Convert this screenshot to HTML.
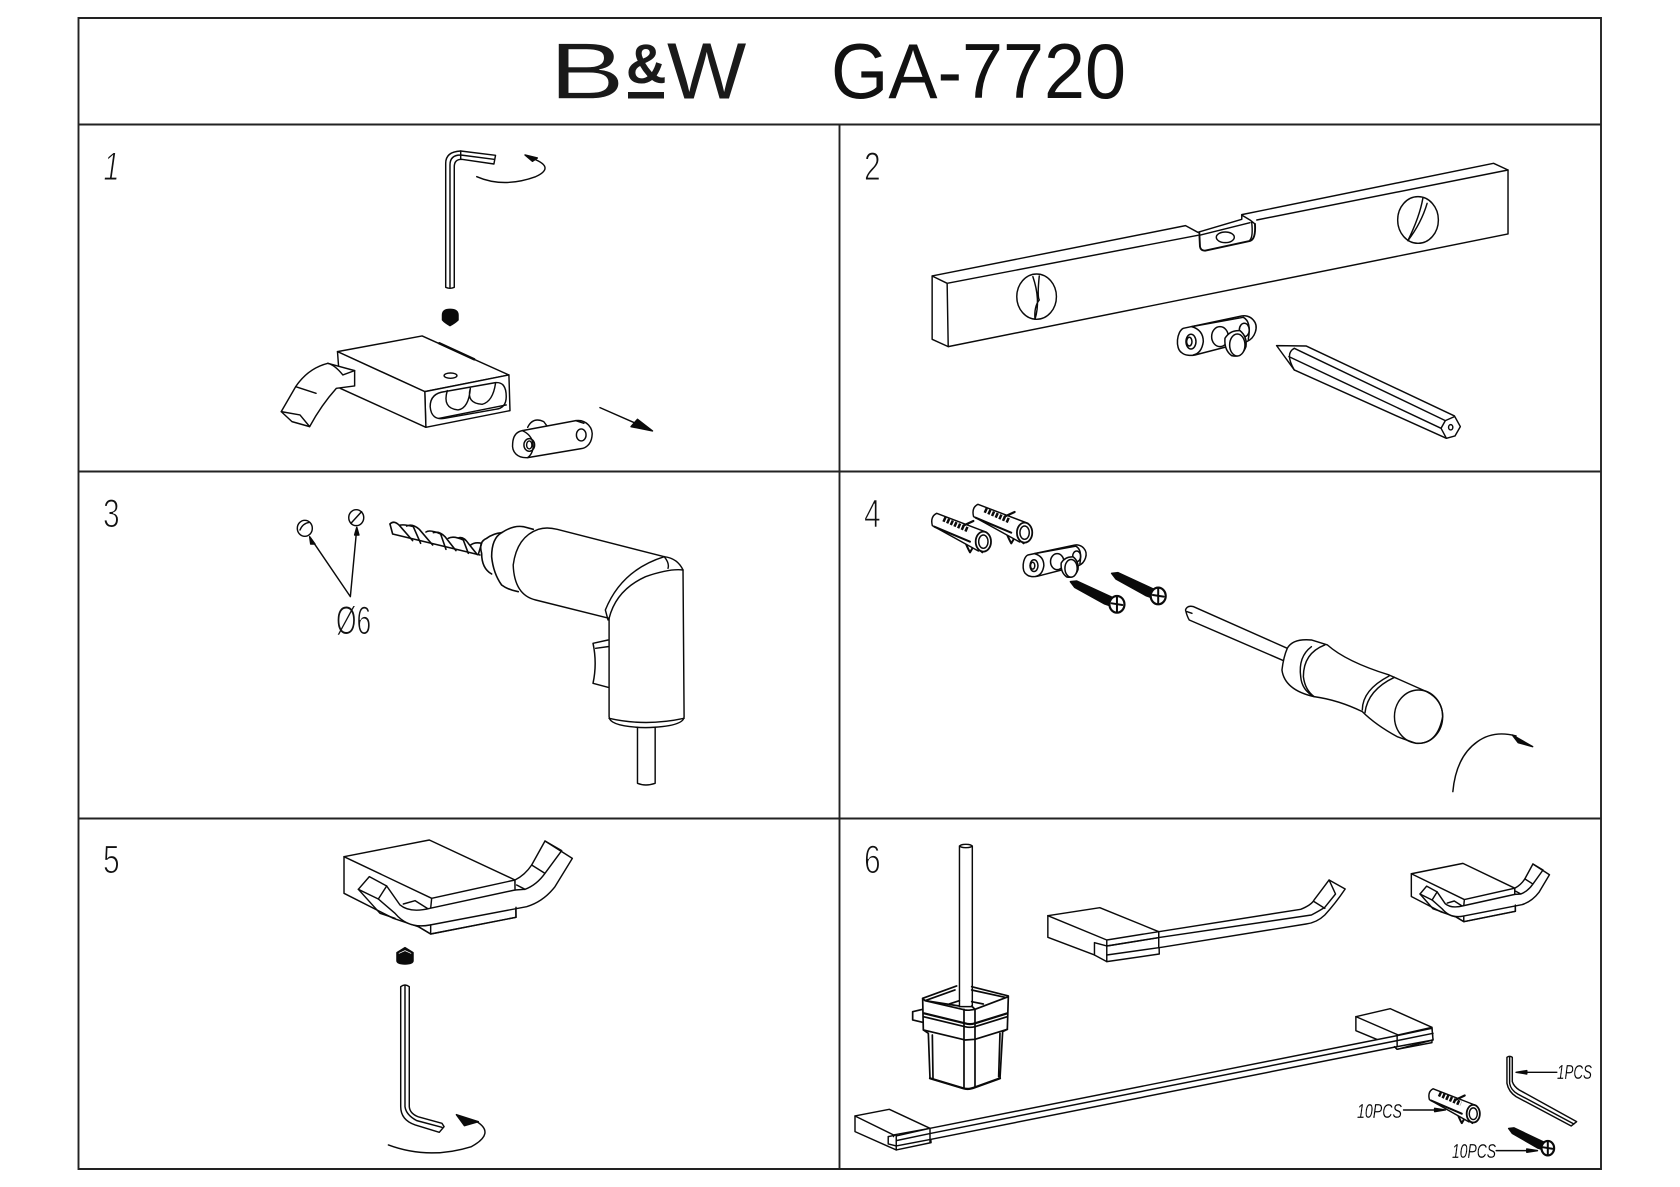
<!DOCTYPE html>
<html><head><meta charset="utf-8"><style>
html,body{margin:0;padding:0;background:#fff}
svg{display:block}
path,ellipse,line,polygon,rect{vector-effect:non-scaling-stroke}
.d{fill:none;stroke:#0a0a0a;stroke-width:1.45;stroke-linejoin:round;stroke-linecap:round}
.w{fill:#fff}.k{fill:#0a0a0a}.n{fill:none}
text{font-family:"Liberation Sans",sans-serif}
.num{font-size:40px;fill:#111;stroke:#fff;stroke-width:1.1}
.lab{font-size:20px;font-style:italic;fill:#000;stroke:#fff;stroke-width:.2}
</style></head><body>
<svg width="1680" height="1187" viewBox="0 0 1680 1187" xmlns="http://www.w3.org/2000/svg">
<defs>
<g id="plate"><g transform="translate(597.3,630) scale(.6222,1)" style="stroke-width:1.5">
<path class="w" d="M70 355C50 365 45 415 65 428C75 438 95 437 105 435L260 395C285 385 298 350 280 330C270 318 255 316 245 318Z"/>
<path d="M95 350Q130 360 130 395Q125 430 100 435M95 350L250 322Q275 335 265 388"/>
<ellipse cx="93" cy="395" rx="15" ry="22"/><ellipse cx="88" cy="395" rx="8" ry="13"/>
<ellipse cx="253" cy="360" rx="15" ry="20"/>
<ellipse class="w" cx="180" cy="380" rx="25" ry="30"/>
<path class="w" d="M195 385Q210 360 240 362Q262 380 258 410Q245 445 215 437Q192 420 195 385Z"/>
<ellipse class="w" cx="232" cy="405" rx="23" ry="33"/>
</g></g>
<g id="anchor"><g transform="translate(158.7,75) scale(.6222,1)">
<path d="M120 140Q128 160 135 172L145 155M165 165L172 172" style="stroke-width:2"/>
<path class="w" d="M35 55L185 112L195 150L160 168L22 92Q15 65 35 55Z"/>
<ellipse class="w" cx="175" cy="140" rx="23" ry="30" style="stroke-width:1.8"/>
<ellipse cx="175" cy="140" rx="14" ry="20"/>
<path d="M55 72L132 106" style="stroke-width:5;stroke-dasharray:2.5 1.5;stroke-linecap:butt"/>
<path d="M115 92L145 78" style="stroke-width:2.2"/>
<path d="M28 95L135 140" style="stroke-width:2"/>
</g></g>
<g id="screw">
<polygon class="k" points="430,335 442,333 512,385 505,408 494,402 438,352"/>
<ellipse class="w" cx="517" cy="403" rx="14" ry="25" style="stroke-width:2.2"/>
<path d="M507 400L527 405M517 381L517 425" style="stroke-width:2"/>
</g>
<g id="hook">
<path class="w" d="M12 80L268 30L525 150L528 262L272 312L235 290L160 265L12 190Z"/>
<path d="M12 80L275 205L525 150M275 205L272 235"/>
<path class="w" d="M615 33L697 85L645 170Q610 215 560 230L270 285Q205 298 165 250L115 207L55 178L88 140L140 168L180 225Q210 250 270 235L525 180L525 150Q555 135 575 105Z"/>
<path d="M665 62L615 130Q590 165 555 178L525 180M575 105L615 130M530 165L555 178M665 62L615 33"/>
<path d="M115 207L140 168M55 178L120 250L165 265M190 222L225 212L262 235"/>
<path d="M235 290L272 312L528 262L528 232M272 285L272 312"/>
</g>
</defs>

<g fill="none" stroke="#222" stroke-width="1.9">
<rect x="78.5" y="18" width="1522.5" height="1151"/>
<line x1="78" y1="124.5" x2="1601" y2="124.5"/>
<line x1="78" y1="471.5" x2="1601" y2="471.5"/>
<line x1="78" y1="818.5" x2="1601" y2="818.5"/>
<line x1="839.5" y1="124" x2="839.5" y2="1169"/>
</g>

<!-- Title -->
<text transform="translate(549,98.5) scale(1.42,1)" font-size="80" fill="#1a1a1a" stroke="#fff" stroke-width=".6">B</text>
<text x="626" y="83" font-size="56" font-weight="700" fill="#1a1a1a">&amp;</text>
<rect x="628" y="92" width="36" height="6.5" fill="#1a1a1a"/>
<text transform="translate(667,98.5) scale(1.05,1)" font-size="80" fill="#1a1a1a">W</text>
<text x="831" y="98" font-size="78" fill="#111" textLength="295" lengthAdjust="spacingAndGlyphs">GA-7720</text>

<!-- Panel numbers -->
<text class="num" transform="translate(102,180) skewX(-8) scale(.72,1)">1</text>
<text class="num" transform="translate(864,180) scale(.75,1)">2</text>
<text class="num" transform="translate(103,527) scale(.75,1)">3</text>
<text class="num" transform="translate(864,527) scale(.75,1)">4</text>
<text class="num" transform="translate(103,873) scale(.75,1)">5</text>
<text class="num" transform="translate(864,873) scale(.75,1)">6</text>
<text class="num" transform="translate(336,634) scale(.66,1)">Ø6</text>
<text class="lab" x="1557" y="1079" textLength="35" lengthAdjust="spacingAndGlyphs">1PCS</text>
<text class="lab" x="1357" y="1118" textLength="45" lengthAdjust="spacingAndGlyphs">10PCS</text>
<text class="lab" x="1452" y="1158" textLength="44" lengthAdjust="spacingAndGlyphs">10PCS</text>

<!-- Panel 1 -->
<g class="d" transform="translate(0,0) scale(.5357,.3333)">
<path d="M832 862L832 490Q832 455 860 453L925 466L922 492L862 478Q848 478 848 500L848 862Q840 868 832 862Z"/>
<path d="M840 862L840 495Q840 465 860 465L922 478M860 453L860 478"/>
<path d="M890 530Q940 565 1000 530Q1040 500 988 472"/>
<polygon class="k" points="980,465 1003,474 994,484"/>
<path class="k" d="M826 945Q826 928 840 928Q855 928 855 945L855 960Q850 968 840 977Q830 968 826 960Z"/>
<path class="w" d="M630 1055L788 1008L950 1125L793 1175Z"/>
<path class="w" d="M793 1175L950 1125L952 1232L795 1282Z"/>
<path class="w" d="M630 1055L793 1175L795 1282L635 1165Z"/>
<path d="M820 1030L885 1078" style="stroke-width:2.5"/>
<ellipse cx="841" cy="1127" rx="12" ry="8"/>
<path d="M830 1175L925 1148Q945 1145 945 1190Q945 1225 925 1228L830 1255Q805 1262 803 1220Q803 1180 830 1175Z"/>
<path d="M835 1172Q825 1225 855 1230Q875 1225 878 1165M878 1165Q870 1210 900 1213Q920 1205 925 1150M820 1255L945 1215"/>
<path class="w" d="M612 1090L662 1112L662 1158L628 1165Q600 1215 578 1280L545 1265L525 1235L552 1160Q575 1105 612 1090Z"/>
<path d="M612 1090Q625 1095 640 1125L662 1112M552 1160L590 1180M525 1235L560 1245L578 1280"/>
<path d="M985 1282Q995 1250 1015 1265L1022 1280"/>
<path class="w" d="M975 1292L1075 1262C1095 1258 1108 1285 1105 1310C1103 1335 1092 1345 1085 1346L985 1373C965 1375 955 1355 957 1330C958 1305 965 1295 975 1292Z"/>
<path d="M975 1292C1000 1310 1000 1355 985 1373M1075 1262L1090 1270"/>
<ellipse cx="988" cy="1335" rx="10" ry="19"/><ellipse cx="988" cy="1335" rx="5" ry="12"/>
<ellipse cx="1085" cy="1305" rx="9" ry="18"/>
<line x1="1120" y1="1223" x2="1195" y2="1276"/>
<polygon class="k" points="1218,1293 1178,1280 1190,1258"/>
</g>

<!-- Panel 2 -->
<g class="d" transform="translate(840,0) scale(.5357,.3333)">
<path class="w" d="M172 828L645 677L668 697L750 658L750 644L1220 490L1247 510L1247 702L202 1040L172 1018Z"/>
<path d="M172 828L200 850L668 706M778 660L1247 510M200 850L202 1040"/>
<g transform="translate(597.3,630) scale(.6222,1)">
<path d="M118 76L270 38M245 15L270 30L285 42M275 35Q280 80 270 90"/>
<path d="M118 68L120 110Q122 122 135 122L270 93Q288 88 285 42" style="stroke-width:1.9"/>
<ellipse cx="196" cy="82" rx="27" ry="16"/>
</g>
<ellipse cx="367" cy="890" rx="37" ry="68"/>
<path d="M372 828Q368 890 372 900Q362 920 364 958M360 830Q375 900 364 958"/>
<ellipse cx="1079" cy="660" rx="38" ry="70"/>
<path d="M1088 595Q1082 650 1060 722M1096 610Q1085 670 1060 722"/>
<use href="#plate"/>
<path class="w" d="M815 1037L870 1038L1147 1248L1158 1280L1148 1308L1132 1315L848 1110Z"/>
<path d="M848 1045L1130 1262M838 1070L1122 1285M848 1045Q830 1060 848 1110M1130 1262L1147 1250M1130 1262L1122 1285L1132 1315"/>
<ellipse cx="1140" cy="1282" rx="4" ry="8"/>
</g>

<!-- Panel 3 -->
<g class="d" transform="translate(0,470) scale(.5357,.3333)">
<ellipse cx="569" cy="175" rx="14" ry="24"/><path d="M560 180Q565 160 578 157"/>
<ellipse cx="665" cy="143" rx="14" ry="24"/><path d="M655 160L675 125"/>
<path d="M654 380L580 205M654 380L666 175"/>
<polygon class="k" points="578,200 588,222 580,222"/><polygon class="k" points="666,172 670,195 662,195"/>
<g transform="translate(709.3,120) scale(.6222,1)" style="stroke-width:1.6">
<path d="M38 72L300 135M30 42L38 72"/>
<path d="M30 42Q42 30 58 46L98 92M58 46Q72 42 100 50M100 50L122 100M80 48Q98 40 118 58L158 105M138 66Q150 58 182 72M182 72L198 118M160 68Q178 62 195 80L228 122M205 85Q220 76 250 90M250 90L265 130M235 84Q250 78 265 100L292 134M272 105Q285 95 305 100L296 130"/>
<path d="M305 130Q295 95 320 85Q340 70 365 68M305 130Q305 175 335 192"/>
<path d="M365 68Q335 85 335 140Q340 190 365 225Q385 240 415 245"/>
<path d="M365 68Q400 45 430 50L460 58"/>
</g>
<path class="w" d="M1005 178Q1020 170 1040 178L1240 260Q1265 265 1275 300L1277 740Q1277 770 1205 773Q1137 770 1137 740L1137 445L1000 390Q960 375 958 285Q965 200 1005 178Z"/>
<path d="M1240 260Q1160 300 1130 420L1135 450M1275 300Q1250 295 1205 320Q1150 360 1137 445M1240 260Q1250 280 1247 295"/>
<path d="M1137 745Q1205 770 1277 745"/>
<path d="M1190 772L1190 940Q1205 950 1223 940L1223 772"/>
<path d="M1135 510L1107 520Q1115 580 1107 640L1135 652M1112 535L1135 530" style="stroke-width:1.5"/>
</g>

<!-- Panel 4 -->
<g class="d" transform="translate(840,470) scale(.5357,.3333)">
<use href="#anchor" transform="translate(77,-27)"/>
<use href="#anchor"/>
<use href="#plate" transform="translate(-162,-533) scale(.8,.8)"/>
<use href="#screw"/>
<use href="#screw" transform="translate(77,-25)"/>
<path d="M660 410Q648 405 645 420Q648 440 652 450M660 410L835 535M652 450L828 572M648 425L657 430"/>
<path class="w" d="M835 535Q845 505 880 510L910 525Q945 575 1025 615L1095 665Q1125 690 1125 740Q1115 825 1075 820L1040 800Q1000 765 975 725Q930 690 885 680Q830 660 825 600Q828 560 835 535Z"/>
<path d="M880 530Q855 560 860 620Q862 660 885 680M905 525Q865 550 865 620Q868 660 885 680"/>
<path d="M1025 618Q975 660 975 720M1035 622Q985 660 980 728"/>
<ellipse cx="1080" cy="740" rx="45" ry="80"/>
<path d="M1144 965Q1150 860 1190 815Q1220 780 1262 798"/>
<polygon class="k" points="1293,830 1255,795 1266,818"/>
</g>

<!-- Panel 5 -->
<g class="d" transform="translate(0,820) scale(.5357,.3333)">
<use href="#hook" transform="translate(634.7,30) scale(.6222,1)"/>
<path class="k" d="M741 398L756 383L771 398L771 422Q771 432 756 432Q741 432 741 422Z"/>
<path d="M745 400L756 392L767 400" style="stroke:#fff;stroke-width:.8"/>
<path d="M748 500Q756 490 764 500L764 860Q765 880 780 890L825 910L829 920L820 937L775 915Q748 900 748 860Z"/>
<path d="M756 498L756 860Q758 885 778 902L825 922"/>
<path d="M725 975Q800 1020 880 980Q925 940 890 905"/>
<polygon class="k" points="852,884 893,905 867,917"/>
</g>

<!-- Panel 6 -->
<g class="d" transform="translate(840,820) scale(.5357,.3333)">
<path class="w" d="M223 78L223 560L247 560L247 78Z"/>
<ellipse class="w" cx="235" cy="78" rx="11" ry="5"/>
<g transform="translate(112,480) scale(.6222,1)" style="stroke-width:1.7">
<path d="M68 88L38 95L38 120L68 127"/>
<path d="M178 62L148 72M215 65L250 72M75 62L165 30M68 55L170 18M215 20L325 48M215 30L315 52"/>
<path d="M178 78L75 62M215 78L225 88"/>
<path class="w" d="M68 55L75 62L195 90Q205 92 225 88L325 50L322 148L308 155L300 295L225 322Q205 330 190 325L90 295L85 160L70 150Z"/>
<path d="M72 100L195 130Q210 135 225 130L322 100" style="stroke-width:2.2"/>
<path d="M70 110L195 140Q210 144 225 140L322 110"/>
<path d="M70 150L195 180L225 178L322 148"/>
<path d="M192 88L192 325M225 88L225 322M97 165L99 295M300 160L296 290"/>
<path d="M90 295L190 325Q205 330 225 322L300 295" style="stroke-width:2.3"/>
</g>

<path class="w" d="M388 287L485 263L595 335L596 402L498 425L475 405L388 352Z"/>
<path d="M388 287L498 360L595 335M498 360L498 378M475 405L475 368L498 378M498 405L498 425"/>
<path class="w" d="M498 378L595 353L595 335L860 268Q880 255 885 240L913 180L943 207Q925 250 905 285Q890 308 870 312L600 382L498 405Z"/>
<path d="M885 245L905 265M498 378L598 352L880 285Q895 272 905 262L925 222L913 180M595 335L595 382"/>

<use href="#hook" transform="translate(1062,111.6) scale(.3764,.62)"/>

<path class="w" d="M28 888L92 868L168 925L170 968L105 990L28 935Z"/>
<path d="M28 888L100 945L168 925M100 945L100 950M90 950L105 945M90 950L90 972L105 978M105 978L105 990"/>
<path class="w" d="M963 590L1027 566L1105 622L1107 660L1040 688L1035 680L963 632Z"/>
<path d="M963 590L1042 645L1105 622"/>
<path class="w" d="M105 948L168 925L1040 647L1105 625L1107 660L1040 680L170 958L105 978Z"/>
<path d="M105 962L170 940L1040 662L1107 640M168 925L168 968M1040 647L1040 680"/>
<path d="M1035 680L1040 688L1105 668L1105 660"/>

<use href="#anchor" transform="translate(952,692) scale(.86,.88)"/>
<path d="M1052 870L1125 870"/><polygon class="k" points="1130,870 1110,865 1110,875"/>
<path d="M1245 712Q1250 706 1255 712L1255 785Q1258 800 1268 810L1375 905L1365 918L1262 830Q1248 815 1245 790Z"/>
<path d="M1250 712L1250 790Q1252 810 1265 822L1370 912"/>
<path d="M1338 757L1268 757"/><polygon class="k" points="1262,757 1282,752 1282,762"/>
<use href="#screw" transform="translate(887,634) scale(.84,.87)"/>
<path d="M1225 992L1295 992"/><polygon class="k" points="1302,992 1282,987 1282,997"/>
</g>
</svg>
</body></html>
